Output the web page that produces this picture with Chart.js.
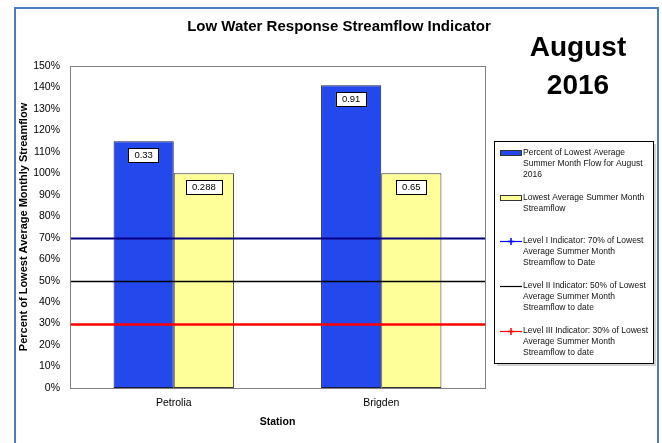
<!DOCTYPE html>
<html>
<head>
<meta charset="utf-8">
<script src="https://cdn.jsdelivr.net/npm/chart.js@4"></script>
<style>
  html, body { margin: 0; padding: 0; background: #ffffff; }
  #wrap { width: 662px; height: 443px; position: relative; }
</style>
</head>
<body>
<div id="wrap"><canvas id="myChart" width="662" height="443"></canvas></div>
<script>
// chart data
const stations = ['Petrolia', 'Brigden'];
const augustFlow = [115, 141];          // percent of lowest avg summer month flow
const lowestAvg = [100, 100];
const augustLabels = ['0.33', '0.91'];
const lowestLabels = ['0.288', '0.65'];
const levelValues = [70, 50, 30];
const levelColors = ['#000080', '#000000', '#ff0000'];
const levelWidths = [2, 1.5, 2.5];
const yTicks = [0, 10, 20, 30, 40, 50, 60, 70, 80, 90, 100, 110, 120, 130, 140, 150];

const legendItems = [
    { kind: 'box', color: '#2349ec', lines: ['Percent of Lowest Average', 'Summer Month Flow for August', '2016'] },
    { kind: 'box', color: '#ffff99', lines: ['Lowest Average Summer Month', 'Streamflow'] },
    { kind: 'line', color: '#0000ff', marker: true, lines: ['Level I Indicator: 70% of Lowest', 'Average Summer Month', 'Streamflow to Date'] },
    { kind: 'line', color: '#000000', marker: false, lines: ['Level II Indicator: 50% of Lowest', 'Average Summer Month', 'Streamflow to date'] },
    { kind: 'line', color: '#ff0000', marker: true, lines: ['Level III Indicator: 30% of Lowest', 'Average Summer Month', 'Streamflow to date'] }
];

const FONT = "'Liberation Sans', Arial, sans-serif";

// frame, title, month text, level lines, value boxes, legend
const decorations = {
    id: 'decorations',
    beforeDraw(chart) {
        const ctx = chart.ctx;
        const a = chart.chartArea;
        ctx.save();
        ctx.fillStyle = '#ffffff';
        ctx.fillRect(a.left, a.top, a.right - a.left, a.bottom - a.top);
        ctx.restore();
    },
    afterDatasetsDraw(chart) {
        const ctx = chart.ctx;
        const a = chart.chartArea;
        const y = chart.scales.y;
        ctx.save();
        // level indicator lines
        levelValues.forEach((v, i) => {
            const py = Math.round(y.getPixelForValue(v)) + 0.5;
            ctx.strokeStyle = levelColors[i];
            ctx.lineWidth = levelWidths[i];
            ctx.beginPath();
            ctx.moveTo(a.left, py);
            ctx.lineTo(a.right, py);
            ctx.stroke();
        });
        // plot border
        ctx.strokeStyle = '#808080';
        ctx.lineWidth = 1;
        ctx.strokeRect(a.left + 0.5, a.top + 0.5, a.right - a.left, a.bottom - a.top);

        // value boxes
        const labelSets = [augustLabels, lowestLabels];
        ctx.font = '9.5px ' + FONT;
        ctx.textAlign = 'center';
        ctx.textBaseline = 'middle';
        labelSets.forEach((labels, di) => {
            chart.getDatasetMeta(di).data.forEach((bar, i) => {
                const txt = labels[i];
                const w = ctx.measureText(txt).width + 12;
                const cx = bar.x;
                const cy = bar.y + 14;
                ctx.fillStyle = '#ffffff';
                ctx.fillRect(cx - w / 2, cy - 7, w, 14);
                ctx.strokeStyle = '#000000';
                ctx.lineWidth = 1;
                ctx.strokeRect(Math.round(cx - w / 2) + 0.5, Math.round(cy - 7) + 0.5, Math.round(w), 14);
                ctx.fillStyle = '#000000';
                ctx.fillText(txt, cx, cy + 0.5);
            });
        });
        ctx.restore();
    },
    afterDraw(chart) {
        const ctx = chart.ctx;
        ctx.save();
        // outer frame
        ctx.strokeStyle = '#4a7cc4';
        ctx.lineWidth = 2;
        ctx.strokeRect(15, 8, 643, 445);

        // title
        ctx.fillStyle = '#000000';
        ctx.textAlign = 'center';
        ctx.textBaseline = 'middle';
        ctx.font = 'bold 15px ' + FONT;
        ctx.fillText('Low Water Response Streamflow Indicator', 339, 27);

        ctx.font = 'bold 28px ' + FONT;
        ctx.fillText('August', 578, 48);
        ctx.fillText('2016', 578, 86);

        // legend box
        const lx = 494, ly = 141, lw = 159, lh = 222;
        ctx.fillStyle = 'rgba(0,0,0,0.18)';
        ctx.fillRect(lx + 3, ly + 3, lw, lh);
        ctx.fillStyle = '#ffffff';
        ctx.fillRect(lx, ly, lw, lh);
        ctx.strokeStyle = '#000000';
        ctx.lineWidth = 1;
        ctx.strokeRect(lx + 0.5, ly + 0.5, lw, lh);

        const starts = [153, 198, 241, 286, 331];
        ctx.textAlign = 'left';
        ctx.font = '8.5px ' + FONT;
        legendItems.forEach((it, i) => {
            const sy = starts[i];
            if (it.kind === 'box') {
                ctx.fillStyle = it.color;
                ctx.fillRect(500, sy - 2, 21, 4);
                ctx.strokeStyle = '#333333';
                ctx.lineWidth = 1;
                ctx.strokeRect(500.5, sy - 2.5, 21, 5);
            } else {
                ctx.strokeStyle = it.color;
                ctx.lineWidth = 1.2;
                ctx.beginPath();
                ctx.moveTo(500, sy + 0.5);
                ctx.lineTo(522, sy + 0.5);
                ctx.stroke();
                if (it.marker) {
                    ctx.beginPath();
                    ctx.moveTo(511, sy - 3);
                    ctx.lineTo(511, sy + 4);
                    ctx.moveTo(508, sy + 0.5);
                    ctx.lineTo(514, sy + 0.5);
                    ctx.lineWidth = 1.5;
                    ctx.stroke();
                }
            }
            ctx.fillStyle = '#111111';
            it.lines.forEach((ln, k) => {
                ctx.fillText(ln, 523, sy + k * 11);
            });
        });
        ctx.restore();
    }
};

const ctx = document.getElementById('myChart').getContext('2d');
const myChart = new Chart(ctx, {
    type: 'bar',
    data: {
        labels: stations,
        datasets: [{
            label: 'Percent of Lowest Average Summer Month Flow for August 2016',
            data: augustFlow,
            backgroundColor: '#2349ec',
            borderColor: '#1a1a40',
            borderWidth: 1,
            borderSkipped: false
        }, {
            label: 'Lowest Average Summer Month Streamflow',
            data: lowestAvg,
            backgroundColor: '#ffff99',
            borderColor: '#333333',
            borderWidth: 1,
            borderSkipped: false
        }]
    },
    options: {
        responsive: false,
        animation: false,
        events: [],
        layout: { padding: { left: 15, top: 66, right: 177, bottom: 12 } },
        plugins: {
            legend: { display: false },
            tooltip: { enabled: false }
        },
        datasets: {
            bar: { categoryPercentage: 0.58, barPercentage: 1.0 }
        },
        scales: {
            x: {
                grid: { display: false, drawTicks: false },
                border: { display: false },
                ticks: { color: '#000000', font: { family: FONT, size: 10.5 }, padding: 9 },
                title: {
                    display: true, text: 'Station', color: '#000000',
                    font: { family: FONT, size: 10.5, weight: 'bold' }, padding: { top: 4, bottom: 3 }
                },
                afterFit(scale) { scale.height = 43; }
            },
            y: {
                min: 0,
                max: 150,
                afterBuildTicks(scale) { scale.ticks = yTicks.map(v => ({ value: v })); },
                grid: { display: false, drawOnChartArea: false, drawTicks: true, tickLength: 4, color: '#000000' },
                border: { display: true, color: '#808080' },
                ticks: {
                    color: '#000000', font: { family: FONT, size: 10.5 }, padding: 6,
                    callback: v => v + '%'
                },
                title: {
                    display: true, text: 'Percent of Lowest Average Monthly Streamflow', color: '#000000',
                    font: { family: FONT, size: 11, weight: 'bold' }, padding: { top: 2, bottom: 0 }
                },
                afterFit(scale) { scale.width = 55; }
            }
        }
    },
    plugins: [decorations]
});
</script>
</body>
</html>
